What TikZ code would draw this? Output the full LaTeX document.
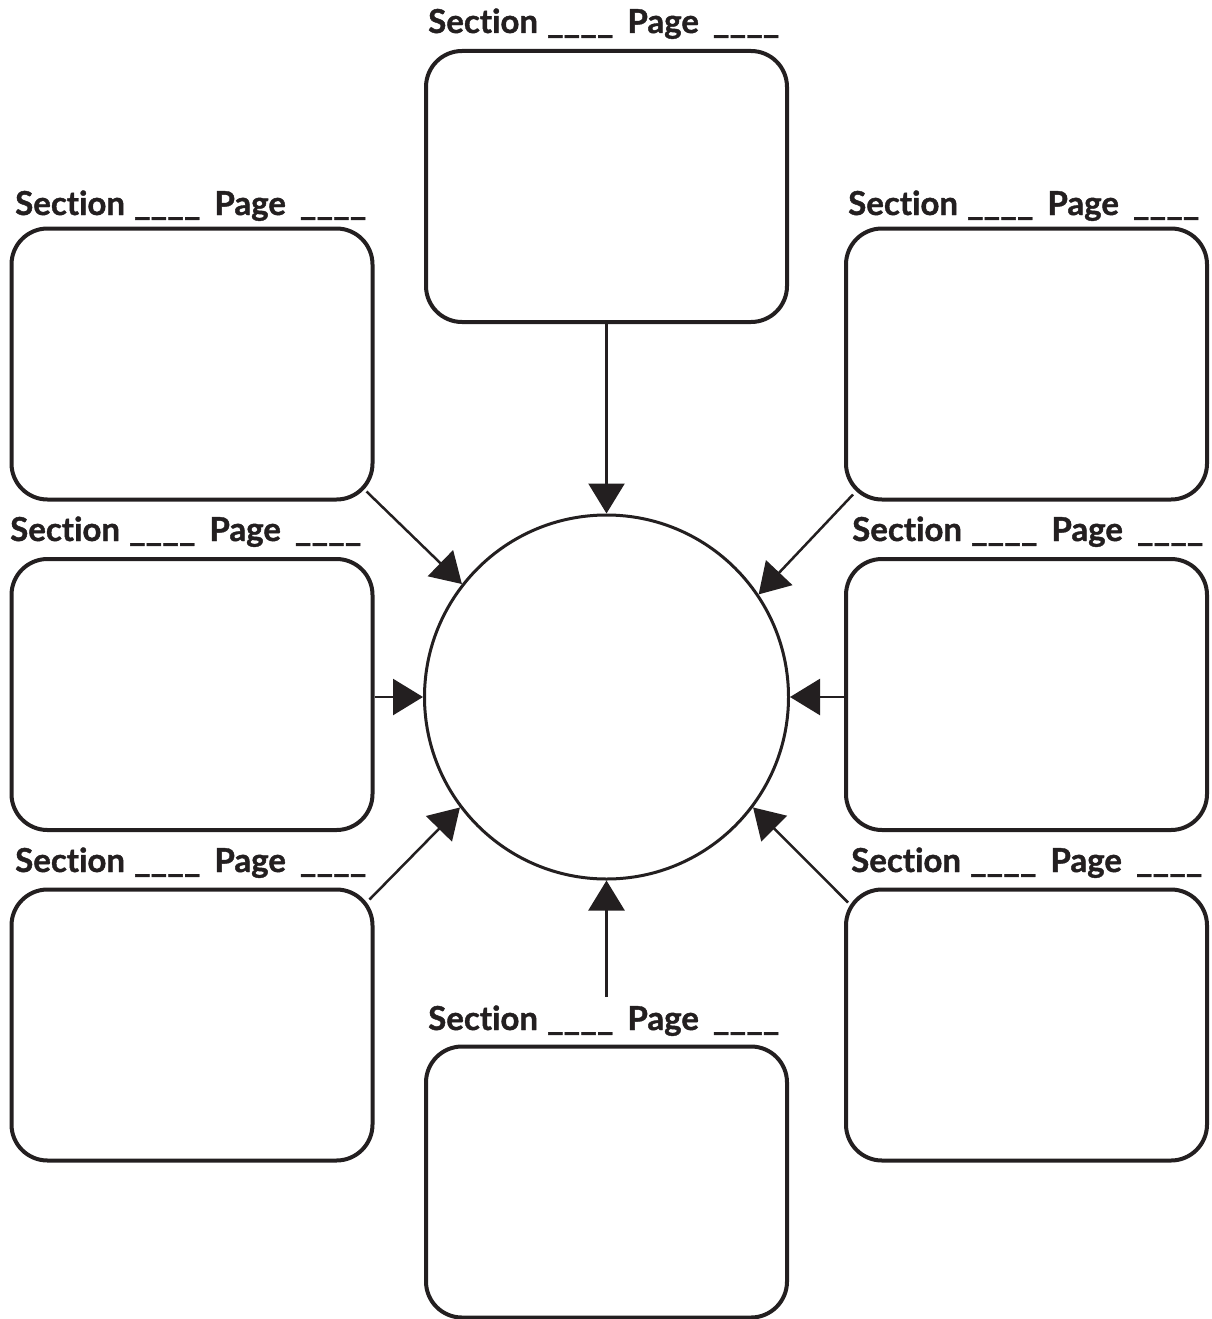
\documentclass[tikz,border=0pt]{standalone}
\usepackage{fontspec}
\setmainfont{Lato}[Ligatures=NoCommon,BoldFeatures={FakeBold=1.2}]
\usetikzlibrary{arrows.meta,calc}
\definecolor{ink}{RGB}{35,31,32}
\newcommand{\blankline}{\scalebox{1.08}[1]{\_\_\_\_}}
\newcommand{\seclabel}{Section\hspace{9pt}\blankline\hspace{14pt}Page\hspace{14pt}\blankline}
\begin{document}
\begin{tikzpicture}[x=1pt,y=-1pt,
  box/.style={draw=ink,line width=4pt,rounded corners=36pt,minimum width=361pt,minimum height=271pt,inner sep=0pt},
  ring/.style={draw=ink,line width=3pt,circle,minimum size=364pt,inner sep=0pt},
  arr/.style={draw=ink,line width=2.5pt,-{Triangle[length=30pt,width=36pt]},fill=ink},
  lbl/.style={anchor=base west,inner sep=0pt,text=ink,font=\bfseries\fontsize{33}{33}\selectfont}]
\useasboundingbox (0,0) rectangle (1211,1319);
% boxes
\node[box] (t)  at (606.5,186.5) {};
\node[box] (ul) at (192,364) {};
\node[box] (ur) at (1026.5,364) {};
\node[box] (ml) at (192,694.5) {};
\node[box] (mr) at (1026.5,694.5) {};
\node[box] (ll) at (192,1025) {};
\node[box] (lr) at (1026.5,1025) {};
\node[box] (b)  at (606.5,1182) {};
\node[ring] (c) at (606.5,697) {};
% labels
\node[lbl] (tlab)  at (428,33)   {\seclabel};
\node[lbl] (ullab) at (15,215)   {\seclabel};
\node[lbl] (urlab) at (848,215)  {\seclabel};
\node[lbl] (mllab) at (10,541)   {\seclabel};
\node[lbl] (mrlab) at (852,541)  {\seclabel};
\node[lbl] (lllab) at (15,872)   {\seclabel};
\node[lbl] (lrlab) at (851,872)  {\seclabel};
\node[lbl] (blab)  at (428,1030) {\seclabel};
% connector start points
\coordinate (bs)  at (606.5,997);
\coordinate (uls) at ($(ul.south east)+(-8,-10)$);
\coordinate (urs) at ($(ur.south west)+(9,-7)$);
\coordinate (lls) at ($(ll.north east)+(-5,12)$);
\coordinate (lrs) at ($(lr.north west)+(4,15)$);
% arrows
\draw[arr] (t.south) -- (c.north);
\draw[arr] (bs) -- (c.south);
\draw[arr] (ml.east |- c.west) -- (c.west);
\draw[arr] (mr.west |- c.east) -- (c.east);
\draw[arr] (uls) -- (c.142.5);
\draw[arr] (urs) -- (c.34.6);
\draw[arr] (lls) -- (c.217.6);
\draw[arr] (lrs) -- (c.-37.9);
\end{tikzpicture}
\end{document}
